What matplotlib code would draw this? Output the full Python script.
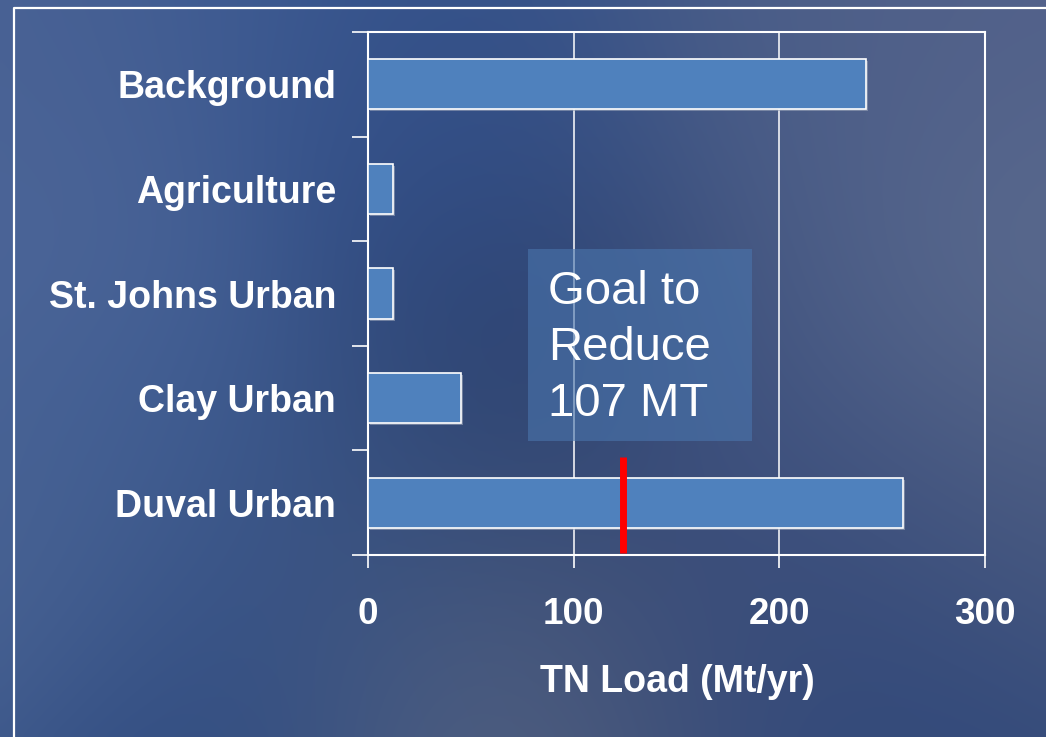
import numpy as np
import matplotlib
matplotlib.use("Agg")
import matplotlib.pyplot as plt
from matplotlib.colors import to_rgb
from matplotlib.lines import Line2D
from matplotlib.patches import Rectangle
import matplotlib.patheffects as pe

plt.rcParams['font.family'] = ['Liberation Sans', 'DejaVu Sans']

# ── Data ─────────────────────────────────────────────────────────────────────
sources = ['Background', 'Agriculture', 'St. Johns Urban', 'Clay Urban', 'Duval Urban']
tn_load = [242, 12, 12, 45, 260]          # Mt/yr
goal_mark = 124                           # target level on the Duval bar
goal_text = 'Goal to\nReduce\n107 MT'
x_ticks = [0, 100, 200, 300]

W, H = 1046, 737
fig = plt.figure(figsize=(W / 100, H / 100), dpi=100)

# ── Cloudy blue backdrop: smooth blend of colour anchors (pixel coords) ──────
anchors = [
    (60, 60, '#4a6294'), (250, 40, '#3c5a92'), (500, 60, '#37548c'),
    (750, 60, '#4b5e88'), (950, 60, '#52618a'), (980, 300, '#5e6e90'),
    (780, 300, '#485a85'), (560, 300, '#2c416f'), (420, 150, '#2f4b84'),
    (80, 250, '#4e6799'), (200, 400, '#3b5a92'), (60, 520, '#4a6494'),
    (250, 700, '#2e4a80'), (470, 690, '#5a6681'), (650, 640, '#3c4e78'),
    (900, 690, '#30487a'), (1010, 500, '#4a5a80'), (450, 450, '#2e4470'),
    (800, 500, '#3a4d7c'), (320, 560, '#3a5586'),
]
gx, gy = np.meshgrid(np.linspace(0, W, 210), np.linspace(0, H, 148))
num = np.zeros(gx.shape + (3,))
den = np.zeros(gx.shape)
for ax_, ay_, col in anchors:
    w = np.exp(-((gx - ax_) ** 2 + (gy - ay_) ** 2) / (2 * 130.0 ** 2))
    num += w[..., None] * np.array(to_rgb(col))
    den += w
bg_img = num / den[..., None]

bg = fig.add_axes([0, 0, 1, 1], zorder=-10)
bg.imshow(bg_img, extent=[0, W, H, 0], aspect='auto', interpolation='bicubic')
bg.set_xlim(0, W); bg.set_ylim(H, 0)
bg.axis('off')

# white slide frame
bg.add_line(Line2D([14, 14, W + 5], [H + 5, 7.5, 7.5], color='white', lw=1.6))

# ── Bar chart ────────────────────────────────────────────────────────────────
ax = fig.add_axes([368 / W, 1 - 555 / H, (985 - 368) / W, (555 - 32) / H])
ax.patch.set_alpha(0)

ypos = np.arange(len(sources))
bars = ax.barh(ypos, tn_load, height=0.48, color='#4f81bd',
               edgecolor='white', linewidth=1.2, zorder=3)
for b in bars:
    b.set_path_effects([pe.SimplePatchShadow(offset=(1.5, -1.5),
                                             shadow_rgbFace='#9aa4b8', alpha=0.6),
                        pe.Normal()])

ax.set_xlim(0, 300)
ax.set_ylim(len(sources) - 0.5, -0.5)

for xv in x_ticks[1:-1]:
    ax.axvline(xv, color='white', lw=1.1, zorder=1)

for s in ax.spines.values():
    s.set_color('white')
    s.set_linewidth(1.5)

ax.set_xticks(x_ticks)
ax.set_xticklabels([str(v) for v in x_ticks])
ax.tick_params(axis='x', colors='white', length=9.5, width=1.2, direction='out',
               pad=21, labelsize=26.5)
for lbl in ax.get_xticklabels():
    lbl.set_fontweight('bold')

ax.set_yticks(ypos)
ax.set_yticklabels(sources)
ax.set_yticks(np.arange(-0.5, len(sources)), minor=True)
ax.tick_params(axis='y', which='major', length=0, pad=23, colors='white', labelsize=27)
ax.tick_params(axis='y', which='minor', length=11.5, width=1.2, colors='white',
               direction='out')
for lbl in ax.get_yticklabels():
    lbl.set_fontweight('bold')

# goal marker and callout
ax.plot([goal_mark, goal_mark], [3.56, 4.48], color='#ff0000', lw=5,
        solid_capstyle='butt', zorder=5)
ax.add_patch(Rectangle((77.8, 1.575), 186.7 - 77.8, 3.41 - 1.575,
                       facecolor='#4a75ad', alpha=0.6, edgecolor='none', zorder=4))
ax.text(87.5, 2.52, goal_text, color='white', fontsize=34, va='center', ha='left',
        linespacing=1.36, zorder=6)

fig.text(677 / W, 1 - 682 / H, 'TN Load (Mt/yr)', color='white', fontsize=27,
         fontweight='bold', ha='center', va='center')

fig.savefig('out.png', dpi=100)
